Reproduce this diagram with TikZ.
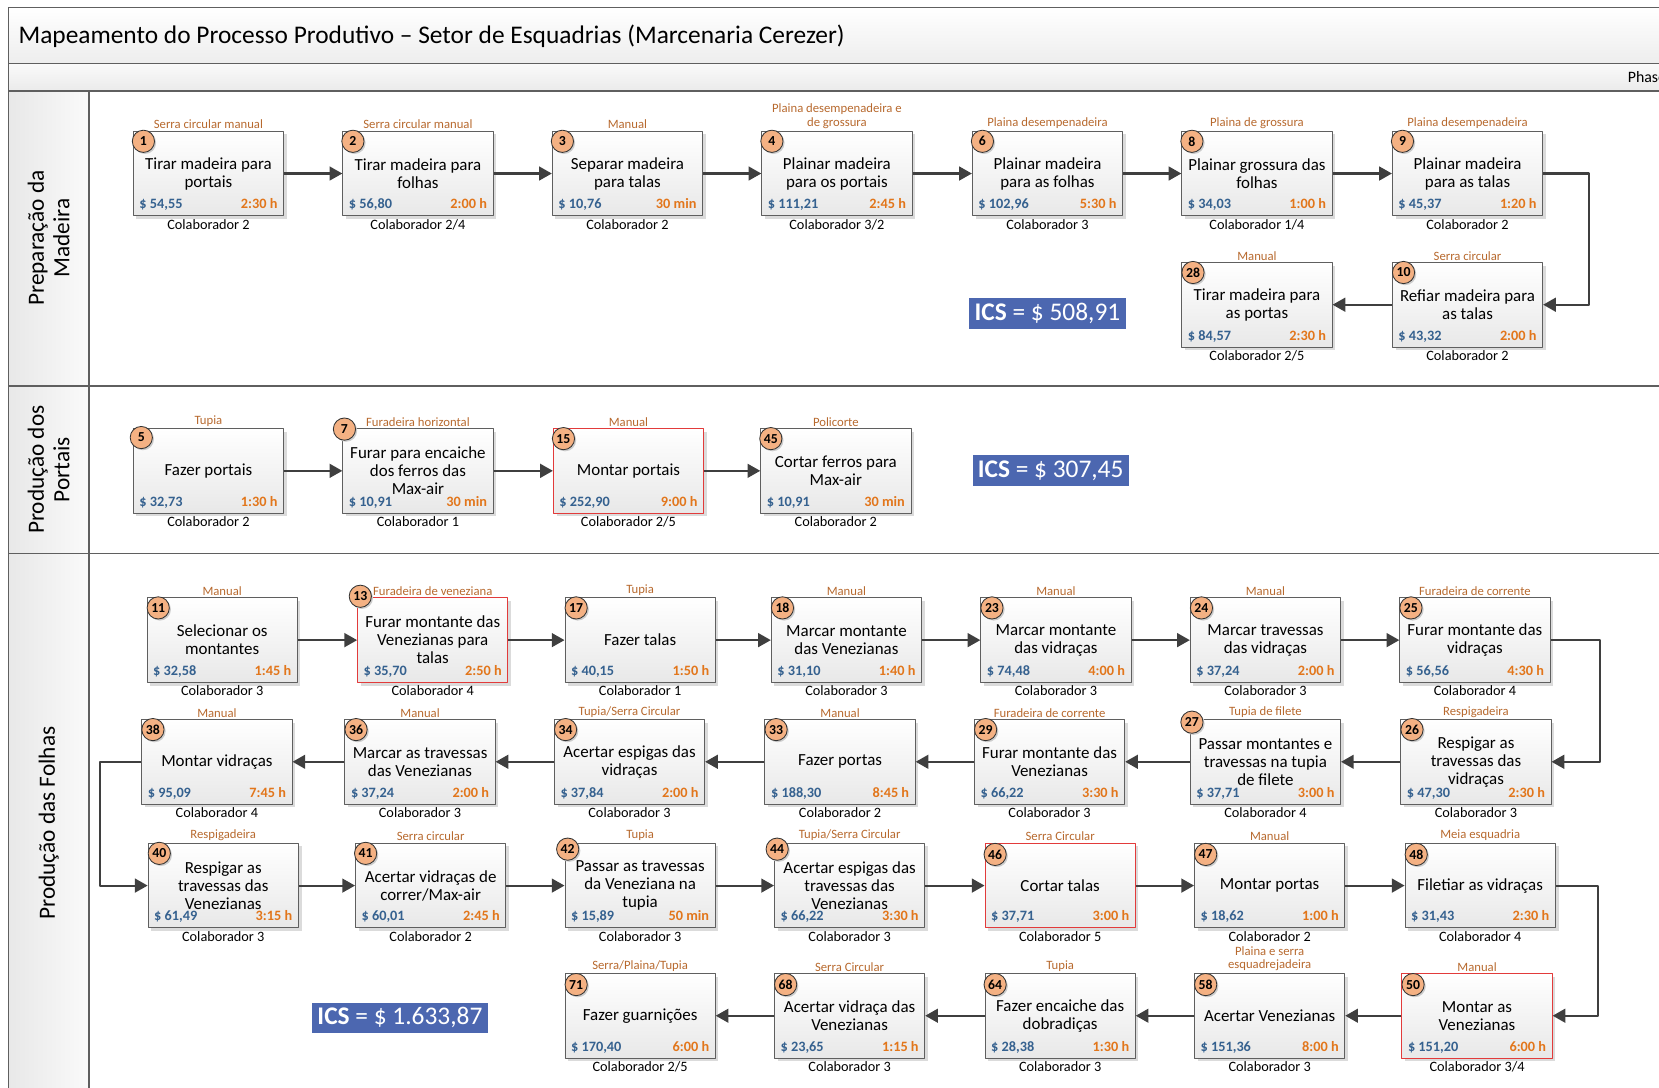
\documentclass[tikz,border=0pt]{standalone}
\usepackage{fontspec}
\setmainfont{Carlito}
\usetikzlibrary{arrows.meta,shadows}

\definecolor{borda}{HTML}{5F5F5F}
\definecolor{corSeta}{HTML}{3F3F3F}
\definecolor{azulPreco}{HTML}{35618F}
\definecolor{laranja}{HTML}{E2761B}
\definecolor{marrom}{HTML}{B7692E}
\definecolor{pessego}{HTML}{F4B183}
\definecolor{azulICS}{HTML}{4C67B0}
\definecolor{vermelho}{HTML}{E23B3B}

\begin{document}
\begin{tikzpicture}[x=1pt,y=-1pt,line join=round,
  moldura/.style={draw=borda,line width=1.4pt},
  etapa/.style={line width=0.9pt,top color=white,bottom color=black!9,
    minimum width=142pt,minimum height=80pt,inner sep=0pt,align=center,
    font=\fontsize{16}{17}\selectfont,
    drop shadow={shadow xshift=3pt,shadow yshift=-3pt,fill=black!14,opacity=1}},
  numero/.style={circle,draw=black!80,line width=0.8pt,fill=pessego,minimum size=21pt,
    inner sep=0pt,font=\bfseries\fontsize{13}{13}\selectfont,
    drop shadow={shadow xshift=1.5pt,shadow yshift=-1.5pt,fill=black!20,opacity=1}},
  ferramenta/.style={anchor=south,inner sep=1.5pt,align=center,text=marrom,
    font=\fontsize{12}{13}\selectfont},
  colab/.style={anchor=north,inner sep=2.5pt,font=\fontsize{13.5}{14}\selectfont},
  preco/.style={anchor=base west,inner sep=0pt,text=azulPreco,
    font=\bfseries\fontsize{13.5}{14}\selectfont},
  tempo/.style={anchor=base east,inner sep=0pt,text=laranja,
    font=\bfseries\fontsize{13.5}{14}\selectfont},
  seta/.style={draw=corSeta,line width=2pt,-{Triangle[length=12pt,width=13pt]}},
  raia/.style={rotate=90,align=center,font=\fontsize{22}{24}\selectfont},
  ics/.style={fill=azulICS,text=white,inner xsep=5pt,inner ysep=2pt,minimum height=29pt,
    font=\fontsize{24}{26}\selectfont}]
  \useasboundingbox (0,0) rectangle (1568,1028);

  % cabecalho e raias
  \shade[top color=white,bottom color=black!7] (8,7) rectangle (1590,60);
  \shade[top color=black!2,bottom color=black!8] (8,60) rectangle (1590,86);
  \shade[left color=black!9,right color=black!2] (8,86) rectangle (84,1050);
  \draw[moldura] (8,7) rectangle (1590,1050);
  \draw[moldura] (8,60) -- (1590,60);
  \draw[moldura] (8,86) -- (1590,86);
  \draw[moldura] (8,365) -- (1590,365);
  \draw[moldura] (8,523) -- (1590,523);
  \draw[moldura] (84,86) -- (84,1050);

  \node[anchor=west,font=\fontsize{24}{26}\selectfont] (titulo) at (14,34)
    {Mapeamento do Processo Produtivo – Setor de Esquadrias (Marcenaria Cerezer)};
  \node[anchor=west,font=\fontsize{15}{16}\selectfont] (fase) at (1535,73) {Phase};

  \node[raia] (raia1) at (46,225) {Preparação da\\Madeira};
  \node[raia] (raia2) at (46,444) {Produção dos\\Portais};
  \node[raia] (raia3) at (46,778) {Produção das Folhas};

  % etapas
  \foreach \n/\pos/\cs/\cor/\ferr/\txt/\custo/\tempo/\colab in {
    1/{197,164}/{10,10}/borda/{Serra circular manual}/{Tirar madeira para\\portais}/{54,55}/{2:30 h}/{2},
    2/{395,164}/{10,10}/borda/{Serra circular manual}/{Tirar madeira para\\folhas}/{56,80}/{2:00 h}/{2/4},
    3/{593,164}/{10,10}/borda/{Manual}/{Separar madeira\\para talas}/{10,76}/{30 min}/{2},
    4/{791,164}/{10,10}/borda/{Plaina desempenadeira e\\de grossura}/{Plainar madeira\\para os portais}/{111,21}/{2:45 h}/{3/2},
    6/{990,164}/{10,10}/borda/{Plaina desempenadeira}/{Plainar madeira\\para as folhas}/{102,96}/{5:30 h}/{3},
    8/{1188,164}/{10,10}/borda/{Plaina de grossura}/{Plainar grossura das\\folhas}/{34,03}/{1:00 h}/{1/4},
    9/{1387,164}/{10,10}/borda/{Plaina desempenadeira}/{Plainar madeira\\para as talas}/{45,37}/{1:20 h}/{2},
    28/{1188,288}/{11,10}/borda/{Manual}/{Tirar madeira para\\as portas}/{84,57}/{2:30 h}/{2/5},
    10/{1387,288}/{11,10}/borda/{Serra circular}/{Refiar madeira para\\as talas}/{43,32}/{2:00 h}/{2},
    5/{197,445}/{8,9}/borda/{Tupia}/{Fazer portais}/{32,73}/{1:30 h}/{2},
    7/{395,445}/{2,1}/borda/{Furadeira horizontal}/{Furar para encaiche\\dos ferros das\\Max-air}/{10,91}/{30 min}/{1},
    15/{594,445}/{10,10}/vermelho/{Manual}/{Montar portais}/{252,90}/{9:00 h}/{2/5},
    45/{790,445}/{10,10}/borda/{Policorte}/{Cortar ferros para\\Max-air}/{10,91}/{30 min}/{2},
    11/{210,605}/{11,10}/borda/{Manual}/{Selecionar os\\montantes}/{32,58}/{1:45 h}/{3},
    13/{409,605}/{3,-1}/vermelho/{Furadeira de veneziana}/{Furar montante das\\Venezianas para\\talas}/{35,70}/{2:50 h}/{4},
    17/{605,605}/{11,10}/borda/{Tupia}/{Fazer talas}/{40,15}/{1:50 h}/{1},
    18/{800,605}/{11,10}/borda/{Manual}/{Marcar montante\\das Venezianas}/{31,10}/{1:40 h}/{3},
    23/{998,605}/{11,10}/borda/{Manual}/{Marcar montante\\das vidraças}/{74,48}/{4:00 h}/{3},
    24/{1196,605}/{11,10}/borda/{Manual}/{Marcar travessas\\das vidraças}/{37,24}/{2:00 h}/{3},
    25/{1394,605}/{11,10}/borda/{Furadeira de corrente}/{Furar montante das\\vidraças}/{56,56}/{4:30 h}/{4},
    38/{205,720}/{11,10}/borda/{Manual}/{Montar vidraças}/{95,09}/{7:45 h}/{4},
    36/{397,720}/{11,10}/borda/{Manual}/{Marcar as travessas\\das Venezianas}/{37,24}/{2:00 h}/{3},
    34/{595,720}/{11,10}/borda/{Tupia/Serra Circular}/{Acertar espigas das\\vidraças}/{37,84}/{2:00 h}/{3},
    33/{794,720}/{11,10}/borda/{Manual}/{Fazer portas}/{188,30}/{8:45 h}/{2},
    29/{992,720}/{11,10}/borda/{Furadeira de corrente}/{Furar montante das\\Venezianas}/{66,22}/{3:30 h}/{3},
    27/{1196,720}/{2,3}/borda/{Tupia de filete}/{Passar montantes e\\travessas na tupia\\de filete}/{37,71}/{3:00 h}/{4},
    26/{1395,720}/{11,10}/borda/{Respigadeira}/{Respigar as\\travessas das\\vidraças}/{47,30}/{2:30 h}/{3},
    40/{211,837}/{11,10}/borda/{Respigadeira}/{Respigar as\\travessas das\\Venezianas}/{61,49}/{3:15 h}/{3},
    41/{407,837}/{10,10}/borda/{Serra circular}/{Acertar vidraças de\\correr/Max-air}/{60,01}/{2:45 h}/{2},
    42/{605,837}/{3,6}/borda/{Tupia}/{Passar as travessas\\da Veneziana na\\tupia}/{15,89}/{50 min}/{3},
    44/{803,837}/{3,6}/borda/{Tupia/Serra Circular}/{Acertar espigas das\\travessas das\\Venezianas}/{66,22}/{3:30 h}/{3},
    46/{1002,837}/{10,11}/vermelho/{Serra Circular}/{Cortar talas}/{37,71}/{3:00 h}/{5},
    47/{1200,837}/{11,11}/borda/{Manual}/{Montar portas}/{18,62}/{1:00 h}/{2},
    48/{1399,837}/{11,11}/borda/{Meia esquadria}/{Filetiar as vidraças}/{31,43}/{2:30 h}/{4},
    71/{605,960}/{11,11}/borda/{Serra/Plaina/Tupia}/{Fazer guarnições}/{170,40}/{6:00 h}/{2/5},
    68/{803,960}/{11,11}/borda/{Serra Circular}/{Acertar vidraça das\\Venezianas}/{23,65}/{1:15 h}/{3},
    64/{1002,960}/{10,11}/borda/{Tupia}/{Fazer encaiche das\\dobradiças}/{28,38}/{1:30 h}/{3},
    58/{1200,960}/{11,11}/borda/{Plaina e serra\\esquadrejadeira}/{Acertar Venezianas}/{151,36}/{8:00 h}/{3},
    50/{1396,960}/{11,11}/vermelho/{Manual}/{Montar as\\Venezianas}/{151,20}/{6:00 h}/{3/4}%
  }{
    \node[etapa,draw=\cor] (b\n) at (\pos) {\txt};
    \node[ferramenta] (f\n) at (b\n.north) {\ferr};
    \node[colab] (c\n) at (b\n.south) {Colaborador \colab};
    \node[preco] (p\n) at ([shift={(6,-7)}]b\n.south west) {\$ \custo};
    \node[tempo] (h\n) at ([shift={(-6,-7)}]b\n.south east) {\tempo};
    \node[numero] (n\n) at ([shift={(\cs)}]b\n.north west) {\n};
  }

  % fluxo
  \foreach \a/\b in {1/2,2/3,3/4,4/6,6/8,8/9,5/7,7/15,15/45,11/13,13/17,17/18,18/23,
      23/24,24/25,40/41,41/42,42/44,44/46,46/47,47/48}
    \draw[seta] (b\a.east) -- (b\b.west);
  \foreach \a/\b in {10/28,26/27,27/29,29/33,33/34,34/36,36/38,50/58,58/64,64/68,68/71}
    \draw[seta] (b\a.west) -- (b\b.east);
  \draw[seta] (b9.east) -- ++(43,0) |- (b10.east);
  \draw[seta] (b25.east) -- ++(47,0) |- (b26.east);
  \draw[seta] (b48.east) -- ++(40,0) |- (b50.east);
  \draw[seta] (b38.west) -- ++(-39,0) |- (b40.west);

  % indicadores de custo
  \node[ics] (ics1) at (990,296) {\textbf{ICS} = \$ 508,91};
  \node[ics] (ics2) at (993,445) {\textbf{ICS} = \$ 307,45};
  \node[ics] (ics3) at (378,962) {\textbf{ICS} = \$ 1.633,87};
\end{tikzpicture}
\end{document}
